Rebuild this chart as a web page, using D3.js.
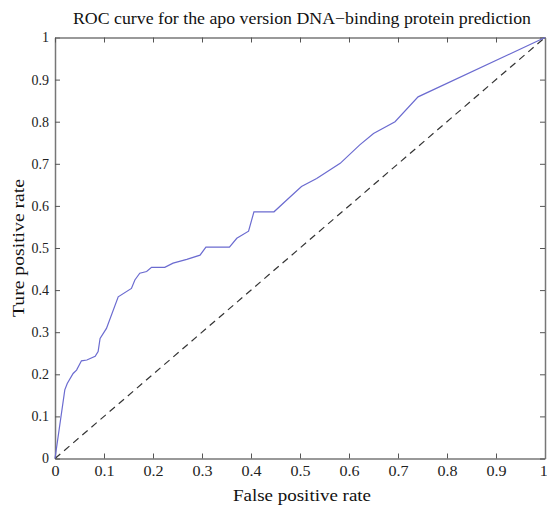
<!DOCTYPE html>
<html lang="en">
<head>
<meta charset="utf-8">
<script src="https://d3js.org/d3.v7.min.js"></script>
<style>
  body { margin: 0; background: #fff; }
  svg text { font-family: "Liberation Serif", "Times New Roman", serif; }
</style>
</head>
<body>
<svg id="chart" width="547" height="506"></svg>
<script>
// ROC points
const fpr = [0, 0.02, 0.025, 0.037, 0.044, 0.054, 0.065, 0.082, 0.088, 0.092, 0.105, 0.129,
  0.156, 0.163, 0.173, 0.187, 0.197, 0.224, 0.241, 0.269, 0.296, 0.308, 0.356, 0.371,
  0.395, 0.406, 0.447, 0.473, 0.503, 0.534, 0.582, 0.622, 0.650, 0.694, 0.741, 1];
const tpr = [0, 0.163, 0.178, 0.202, 0.21, 0.232, 0.234, 0.243, 0.254, 0.285, 0.309, 0.384,
  0.404, 0.424, 0.44, 0.444, 0.454, 0.454, 0.464, 0.473, 0.483, 0.502, 0.502, 0.523,
  0.540, 0.586, 0.586, 0.614, 0.646, 0.665, 0.701, 0.745, 0.772, 0.800, 0.859, 1];
const chance = [0, 1];
const ticks = [0, 0.1, 0.2, 0.3, 0.4, 0.5, 0.6, 0.7, 0.8, 0.9, 1];
const tickLabels = ["0", "0.1", "0.2", "0.3", "0.4", "0.5", "0.6", "0.7", "0.8", "0.9", "1"];

const title = "ROC curve for the apo version DNA\u2212binding protein prediction";
const xTitle = "False positive rate";
const yTitle = "Ture positive rate";

const width = 547, height = 506;
const margin = {top: 37.5, right: 2, bottom: 47.5, left: 55};

const svg = d3.select("#chart");

const x = d3.scaleLinear().domain([0, 1]).range([margin.left, width - margin.right]);
const y = d3.scaleLinear().domain([0, 1]).range([height - margin.bottom, margin.top]);

const axisColor = "#777";
const fmt = (d, i) => tickLabels[i];

function styleAxis(g) {
  g.select(".domain").attr("stroke", axisColor).attr("stroke-width", 1.5);
  g.selectAll(".tick line").attr("stroke", "#555").attr("stroke-width", 1);
  g.selectAll(".tick text").attr("fill", "#222").style("font-size", "14px")
    .style("font-family", "'Liberation Serif', serif");
}

// bottom / left with labels, ticks pointing inward
const gx = svg.append("g")
  .attr("transform", `translate(0,${y(0)})`)
  .call(d3.axisBottom(x).tickValues(ticks).tickFormat(fmt).tickSizeInner(-5).tickSizeOuter(0).tickPadding(8))
  .call(styleAxis);
// keep the last label inside the window
gx.selectAll(".tick text").filter(d => d === 1).attr("dx", "-1.5");
gx.selectAll(".tick text").attr("transform", "scale(1.15,1)")
  .attr("x", 0);

const gy = svg.append("g")
  .attr("transform", `translate(${x(0)},0)`)
  .call(d3.axisLeft(y).tickValues(ticks).tickFormat(fmt).tickSizeInner(-5).tickSizeOuter(0).tickPadding(6))
  .call(styleAxis);

// top / right, ticks only
svg.append("g")
  .attr("transform", `translate(0,${y(1)})`)
  .call(d3.axisTop(x).tickValues(ticks).tickFormat("").tickSizeInner(-5).tickSizeOuter(0))
  .call(styleAxis);

svg.append("g")
  .attr("transform", `translate(${x(1)},0)`)
  .call(d3.axisRight(y).tickValues(ticks).tickFormat("").tickSizeInner(-5).tickSizeOuter(0))
  .call(styleAxis);

// chance line
svg.append("path")
  .datum(chance)
  .attr("fill", "none")
  .attr("stroke", "#333")
  .attr("stroke-width", 1.2)
  .attr("stroke-dasharray", "7,5")
  .attr("d", d3.line().x(d => x(d)).y(d => y(d)));

// ROC curve
const pts = fpr.map((f, i) => [f, tpr[i]]);
svg.append("path")
  .datum(pts)
  .attr("fill", "none")
  .attr("stroke", "#6b6bd0")
  .attr("stroke-width", 1.2)
  .attr("d", d3.line().x(d => x(d[0])).y(d => y(d[1])));

// titles
svg.append("text")
  .attr("x", 302).attr("y", 24)
  .attr("text-anchor", "middle")
  .attr("fill", "#111")
  .attr("textLength", 458)
  .attr("lengthAdjust", "spacingAndGlyphs")
  .style("font-size", "16px")
  .text(title);

svg.append("text")
  .attr("x", 302).attr("y", 501)
  .attr("text-anchor", "middle")
  .attr("fill", "#111")
  .attr("textLength", 138)
  .attr("lengthAdjust", "spacingAndGlyphs")
  .style("font-size", "16px")
  .text(xTitle);

svg.append("text")
  .attr("transform", `translate(24,${(y(0) + y(1)) / 2}) rotate(-90)`)
  .attr("text-anchor", "middle")
  .attr("fill", "#111")
  .attr("textLength", 138)
  .attr("lengthAdjust", "spacingAndGlyphs")
  .style("font-size", "16px")
  .text(yTitle);
</script>
</body>
</html>
